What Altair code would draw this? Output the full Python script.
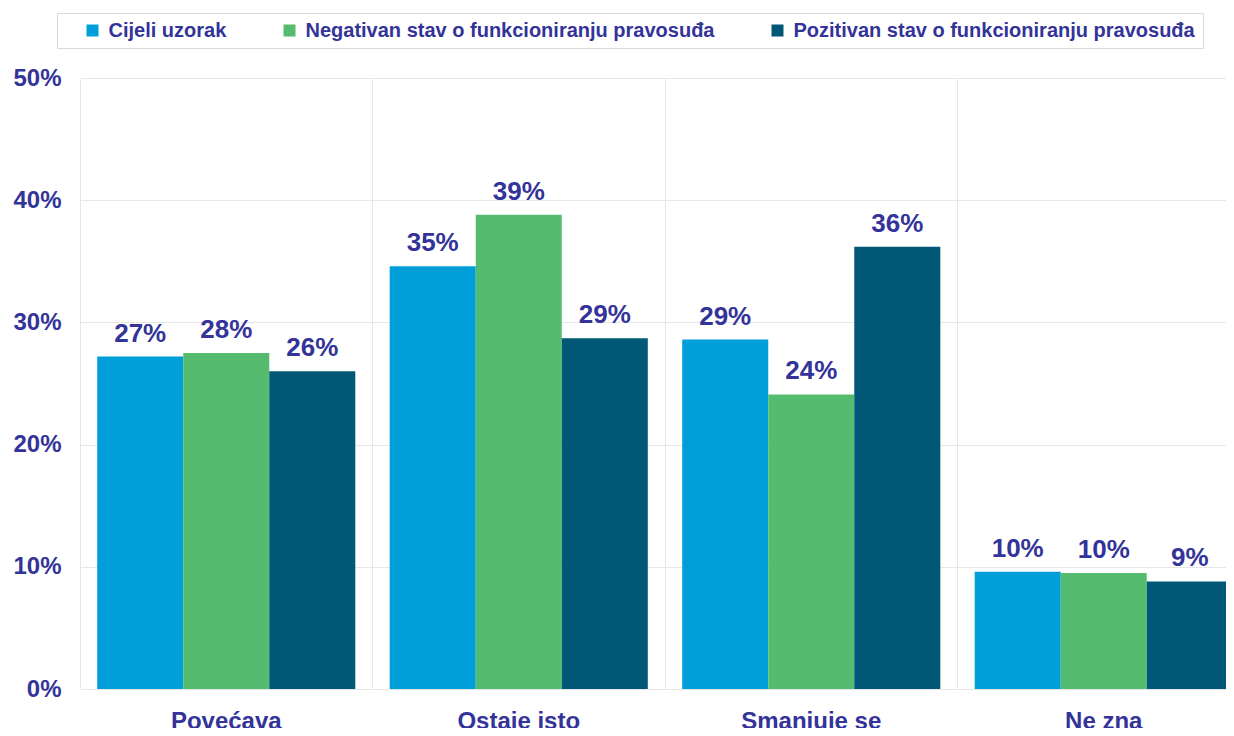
import altair as alt
import pandas as pd

categories = ["Povećava", "Ostaje isto", "Smanjuje se", "Ne zna"]
series = [
    "Cijeli uzorak",
    "Negativan stav o funkcioniranju pravosuđa",
    "Pozitivan stav o funkcioniranju pravosuđa",
]
cijeli = [27.2, 34.6, 28.6, 9.6]
negativan = [27.5, 38.8, 24.1, 9.5]
pozitivan = [26.0, 28.7, 36.2, 8.8]
colors = ["#009FDA", "#55BB6F", "#005876"]
y_ticks = [0, 0.1, 0.2, 0.3, 0.4, 0.5]

rows = []
for s, vals in zip(series, [cijeli, negativan, pozitivan]):
    for c, v in zip(categories, vals):
        rows.append({"kategorija": c, "serija": s, "vrijednost": v / 100})
df = pd.DataFrame(rows)

TEXT = "#333399"
FONT = "Liberation Sans"
GRID = "#e6e6e6"

x = alt.X(
    "kategorija:N",
    sort=categories,
    scale=alt.Scale(range=[0, 1170], paddingInner=0, paddingOuter=0),
    axis=alt.Axis(
        title=None,
        bandPosition=0,
        grid=True,
        gridColor=GRID,
        ticks=False,
        domain=False,
        labelAngle=0,
        labelFont=FONT,
        labelFontSize=24,
        labelFontWeight="bold",
        labelColor=TEXT,
        labelPadding=20,
    ),
)
xo = alt.XOffset("serija:N", sort=series, scale=alt.Scale(paddingOuter=0.2, paddingInner=0))
y = alt.Y(
    "vrijednost:Q",
    scale=alt.Scale(domain=[0, 0.5], nice=False),
    axis=alt.Axis(
        title=None,
        format=".0%",
        values=y_ticks,
        grid=True,
        gridColor=GRID,
        ticks=False,
        domain=False,
        labelFont=FONT,
        labelFontSize=24,
        labelFontWeight="bold",
        labelColor=TEXT,
        labelPadding=19,
    ),
)
color = alt.Color(
    "serija:N",
    sort=series,
    scale=alt.Scale(domain=series, range=colors),
    legend=alt.Legend(
        title=None,
        orient="none",
        legendX=-23,
        legendY=-65,
        direction="horizontal",
        symbolType="square",
        symbolSize=144,
        symbolStrokeWidth=0,
        symbolOpacity=1,
        symbolOffset=18,
        labelOffset=6,
        columnPadding=35,
        padding=7.5,
        strokeColor="#d9d9d9",
        fillColor="white",
        labelFont=FONT,
        labelFontSize=20,
        labelFontWeight="bold",
        labelColor=TEXT,
        labelLimit=0,
    ),
)

bars = alt.Chart(df).mark_bar().encode(x=x, xOffset=xo, y=y, color=color)
labels = alt.Chart(df).mark_text(
    baseline="alphabetic",
    dy=-15,
    font=FONT,
    fontSize=26,
    fontWeight="bold",
    color=TEXT,
).encode(
    x=x,
    xOffset=xo,
    y=y,
    text=alt.Text("vrijednost:Q", format=".0%"),
)

chart = (
    alt.layer(bars, labels)
    .properties(
        width=1146,
        height=611,
        autosize=alt.AutoSizeParams(type="none"),
        padding={"left": 72, "top": 70, "right": 0, "bottom": 39},
        background="white",
    )
    .configure_view(strokeWidth=0)
)

chart.save("out.html", embed_options={"renderer": "svg", "actions": False})
